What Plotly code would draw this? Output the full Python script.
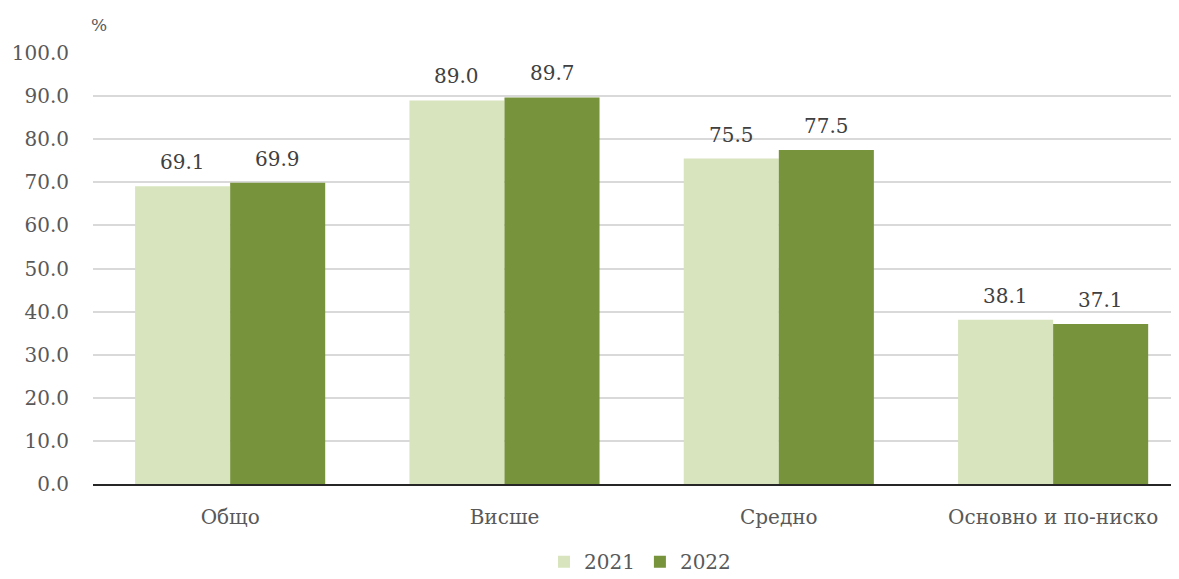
import plotly.graph_objects as go

categories = ["Общо", "Висше", "Средно", "Основно и по-ниско"]
values_2021 = [69.1, 89.0, 75.5, 38.1]
values_2022 = [69.9, 89.7, 77.5, 37.1]
series_names = ["2021", "2022"]
y_ticks = [0, 10, 20, 30, 40, 50, 60, 70, 80, 90, 100]

FONT = "DejaVu Serif"
colors = ["#d7e4bd", "#77933c"]
BARGAP = 0.307

fig = go.Figure()
series = [values_2021, values_2022]
for name, vals, col in zip(series_names, series, colors):
    fig.add_trace(go.Bar(
        name=name, x=categories, y=vals, marker=dict(color=col, line=dict(width=0)),
    ))

annotations = []
half = (1 - BARGAP) / 2
for s, vals in enumerate(series):
    for i, v in enumerate(vals):
        xc = i - half / 2 + s * half
        annotations.append(dict(
            x=xc, y=v, xref="x", yref="y", text=f"{v:.1f}", showarrow=False,
            yanchor="bottom", yshift=10,
            font=dict(family=FONT, size=20, color="#404040")))
annotations.append(dict(text="%", xref="paper", yref="paper", x=0, y=1, xshift=-4, yshift=40,
                        showarrow=False, font=dict(family=FONT, size=17, color="#595959")))

fig.update_layout(
    width=1179, height=579,
    margin=dict(l=85, r=0, t=45, b=103, autoexpand=False),
    paper_bgcolor="white", plot_bgcolor="white",
    barmode="group", bargap=BARGAP, bargroupgap=0,
    font=dict(family=FONT, size=20, color="#595959"),
    showlegend=True,
    legend=dict(orientation="h", x=0.5, xanchor="center", xref="paper",
                y=-0.135, yanchor="top", font=dict(family=FONT, size=20, color="#595959"),
                traceorder="normal", itemwidth=30),
    xaxis=dict(range=[-0.5, 3.488], showline=True, linecolor="#262626", linewidth=2,
               ticks="", ticklabelstandoff=14, automargin=False,
               tickfont=dict(family=FONT, size=20, color="#595959")),
    yaxis=dict(range=[0, 100], tickvals=y_ticks, tickformat=".1f", automargin=False,
               showgrid=True, gridcolor="#d9d9d9", gridwidth=1.5, zeroline=False,
               ticklabelstandoff=23, tickfont=dict(family=FONT, size=20, color="#595959")),
    annotations=annotations,
)

fig.write_html("out.html")
